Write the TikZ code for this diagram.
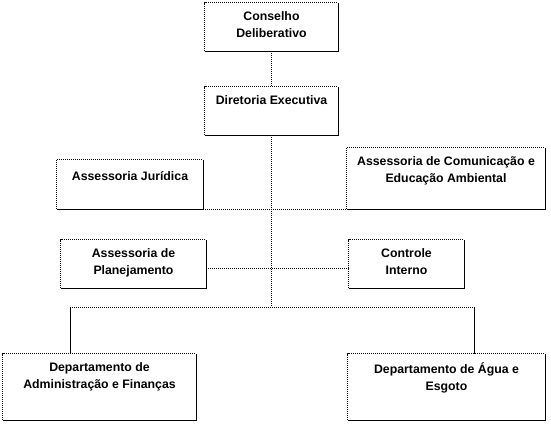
\documentclass[tikz,border=0pt]{standalone}
\usepackage{fontspec}
\setmainfont{Liberation Sans}
\usetikzlibrary{calc,positioning}
\tikzset{
  unit/.style={draw=none,inner sep=0pt},
  lbl/.style={anchor=north,align=center,inner sep=0pt,yshift=-9pt,
    font=\fontsize{12.3}{16.5}\selectfont\bfseries},
  link/.style={line width=0.8pt,dash pattern=on 1pt off 1pt},
  drop/.style={line width=0.8pt}
}
% box edges: top and left dotted, right and bottom solid
\newcommand{\unitedge}[1]{%
  \draw[link] (#1.south west) |- (#1.north east);
  \draw[drop] (#1.north east) |- (#1.south west);}

\begin{document}
\begin{tikzpicture}[x=1pt,y=-1pt]
  \useasboundingbox (0,0) rectangle (551,425);
  % units
  \node[unit,minimum width=133pt,minimum height=48pt,
    label={[lbl]north:{Conselho\\Deliberativo}}] (cd) at (271.5,27) {};
  \node[unit,minimum width=133pt,minimum height=48pt,
    label={[lbl]north:{Diretoria Executiva}}] (de) at (271.5,111) {};
  \node[unit,minimum width=146pt,minimum height=49pt,
    label={[lbl,yshift=-2pt]north:{Assessoria Jurídica}}] (aj) at (130,184.5) {};
  \node[unit,minimum width=198pt,minimum height=61pt,
    label={[lbl]north:{Assessoria de Comunicação e\\Educação Ambiental}}] (ac) at (446,178.5) {};
  \node[unit,minimum width=145pt,minimum height=48pt,
    label={[lbl]north:{Assessoria de\\Planejamento}}] (ap) at (133.5,264) {};
  \node[unit,minimum width=115pt,minimum height=48pt,
    label={[lbl]north:{Controle\\Interno}}] (ci) at (406.5,264) {};
  \node[unit,minimum width=193pt,minimum height=66pt,
    label={[lbl]north:{Departamento de\\Administração e Finanças}}] (daf) at (99.5,387) {};
  \node[unit,minimum width=197pt,minimum height=66pt,
    label={[lbl]north:{Departamento de Água e\\Esgoto}}] (dae) at (446.5,387) {};
  \foreach \u in {cd,de,aj,ac,ap,ci,daf,dae} {\unitedge{\u}}
  % links
  \coordinate (hub) at (271.5,307);
  \coordinate (dropL) at ([xshift=-29.5pt]daf.north);
  \coordinate (dropR) at ([xshift=27.5pt]dae.north);
  \draw[link] (cd) -- (de);
  \draw[link] (de) -- (hub);
  \draw[link] (aj.south east) -- (ac.south west);
  \draw[link] ([yshift=-4pt]ap.east) -- ([yshift=-4pt]ci.west);
  \draw[link] (dropL |- hub) -- (dropR |- hub);
  \draw[drop] (dropL |- hub) -- (dropL);
  \draw[drop] (dropR |- hub) -- (dropR);
\end{tikzpicture}
\end{document}
